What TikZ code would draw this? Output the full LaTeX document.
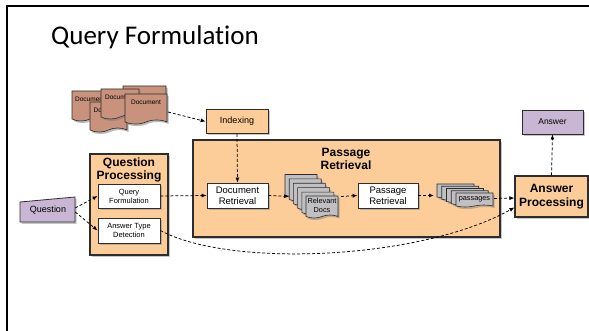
\documentclass[tikz,border=0pt]{standalone}
\usepackage{fontspec}
\setmainfont{Liberation Sans}
\newfontfamily\titlefont[Ligatures=NoCommon]{Carlito}
\usetikzlibrary{shapes.symbols,shadows,arrows.meta}
\definecolor{peach}{RGB}{253,205,153}
\definecolor{qpurple}{RGB}{200,182,212}
\definecolor{docbrown}{RGB}{200,146,124}
\definecolor{docgray}{RGB}{192,192,194}
\definecolor{edge}{RGB}{45,45,45}
\begin{document}
\begin{tikzpicture}[x=1pt,y=-1pt,
  shad/.style={drop shadow={shadow xshift=1.6pt,shadow yshift=-1.8pt,opacity=0.45}},
  wbox/.style={draw=edge,line width=0.8pt,fill=white,shad,inner sep=0.5pt,align=center},
  pbox/.style={draw=edge,line width=1.1pt,fill=peach,shad,inner sep=0pt},
  docsty/.style={shape=tape,tape bend top=none,tape bend bottom=in and out,tape bend height=4pt,
    draw=edge,line width=0.6pt,fill=docbrown,inner sep=0pt,minimum height=30pt,
    text height=5pt,text depth=9pt,font=\fontsize{6.5}{7}\selectfont,
    drop shadow={shadow xshift=1.5pt,shadow yshift=-2pt,opacity=0.55}},
  gdoc/.style={shape=tape,tape bend top=none,tape bend bottom=in and out,tape bend height=3pt,
    draw=edge,line width=0.6pt,fill=docgray,inner sep=0pt,align=center,
    drop shadow={shadow xshift=1.5pt,shadow yshift=-2pt,opacity=0.5}},
  flow/.style={draw=black,line width=0.75pt,dash pattern=on 3pt off 2pt,
    -{Latex[length=5pt,width=4pt]}},
  ttl/.style={font=\bfseries\fontsize{12}{13.8}\selectfont,align=center,inner sep=0pt}
]
\useasboundingbox (0,0) rectangle (589,331);
% slide frame
\draw[line width=2.2pt] (7.2,335) -- (7.2,6.3) -- (592,6.3);
\node[anchor=base west,inner sep=0pt,font=\titlefont\fontsize{27}{31}\selectfont] (title) at (51,45) {Query Formulation};

% document collection
\node[docsty,minimum width=36pt] (d1) at (90,104) {Document};
\node[docsty,minimum width=37pt] (d2) at (108.5,115) {Document};
\node[docsty,minimum width=43pt] (d3) at (144.5,99) {};
\node[docsty,minimum width=38pt] (d4) at (120,102) {Document};
\node[docsty,minimum width=42pt] (d5) at (146,107) {Document};
\coordinate (docsout) at (168,112);

% Indexing
\node[pbox,line width=0.8pt,minimum width=62pt,minimum height=24pt,font=\fontsize{9}{10}\selectfont] (idx) at (237,121.5) {Indexing};

% Question
\filldraw[fill=qpurple,draw=edge,line width=0.8pt,shad] (20,202) -- (75,197) -- (75,222) -- (20,222) -- cycle;
\node[inner sep=0pt,minimum width=54pt,minimum height=20pt,font=\fontsize{9}{10}\selectfont] (q) at (48,210) {Question};

% Question Processing
\node[pbox,minimum width=78pt,minimum height=101pt] (qp) at (129,204.5) {};
\node[ttl] (qpt) at (129,170) {Question\\Processing};
\node[wbox,minimum width=62pt,minimum height=24pt,font=\fontsize{7.5}{9}\selectfont] (qf) at (129,196) {Query\\Formulation};
\node[wbox,minimum width=62pt,minimum height=25pt,font=\fontsize{7.5}{9}\selectfont] (atd) at (129,230.5) {Answer Type\\Detection};

% Passage Retrieval
\node[pbox,minimum width=307pt,minimum height=97pt] (prb) at (346.5,188.5) {};
\node[ttl,font=\bfseries\fontsize{12}{13.5}\selectfont] (prt) at (346,159) {Passage\\Retrieval};
\node[wbox,minimum width=61pt,minimum height=25pt,font=\fontsize{9.5}{11}\selectfont] (dr) at (237.5,195.5) {Document\\Retrieval};
\node[wbox,minimum width=60pt,minimum height=25pt,font=\fontsize{9.5}{11}\selectfont] (pr) at (388,195.5) {Passage\\Retrieval};

% relevant docs stack
\foreach \i in {0,...,4}{
  \node[gdoc,minimum width=32pt,minimum height=22pt] (rd\i) at ({301+4.2*\i},{184+4.4*\i}) {};
}
\node[gdoc,minimum width=32pt,minimum height=22pt,font=\fontsize{7.3}{9.5}\selectfont] (rd) at (322,205.5) {Relevant\\Docs};
\coordinate (relin) at (289,196.5);
\coordinate (relout) at (341,196.5);

% passages stack
\foreach \i in {0,...,3}{
  \node[gdoc,minimum width=37pt,minimum height=14pt,tape bend height=2pt] (ps\i) at ({455.5+4.75*\i},{190+2.25*\i}) {};
}
\node[gdoc,minimum width=37pt,minimum height=14pt,tape bend height=2pt,font=\fontsize{7.3}{8}\selectfont] (ps) at (474.5,199) {passages};
\coordinate (passin) at (434,195.5);
\coordinate (passout) at (494,198.5);

% Answer processing & Answer
\node[pbox,minimum width=73pt,minimum height=41pt,ttl,font=\bfseries\fontsize{12}{14}\selectfont] (ap) at (551.5,196.5) {Answer\\Processing};
\node[wbox,fill=qpurple,minimum width=61pt,minimum height=24pt,font=\fontsize{8.5}{10}\selectfont] (ans) at (552.5,122) {Answer};

% connectors
\draw[flow] (docsout) -- (idx.west);
\draw[flow] (idx.south) -- (dr.north);
\draw[flow] ([yshift=2pt]q.east) -- (qf.west);
\draw[flow] ([yshift=-2pt]q.east) -- (atd.west);
\draw[flow] (qf.east) -- (dr.west);
\draw[flow] (dr.east) -- (relin);
\draw[flow] (relout) -- (pr.west);
\draw[flow] (pr.east) -- (passin);
\draw[flow] (passout) -- ([yshift=-1.5pt]ap.west);
\draw[flow] (ap.north) -- (ans.south);
\draw[flow] (atd.east) .. controls (230,268) and (420,260) .. ([yshift=-11pt]ap.west);
\end{tikzpicture}
\end{document}
